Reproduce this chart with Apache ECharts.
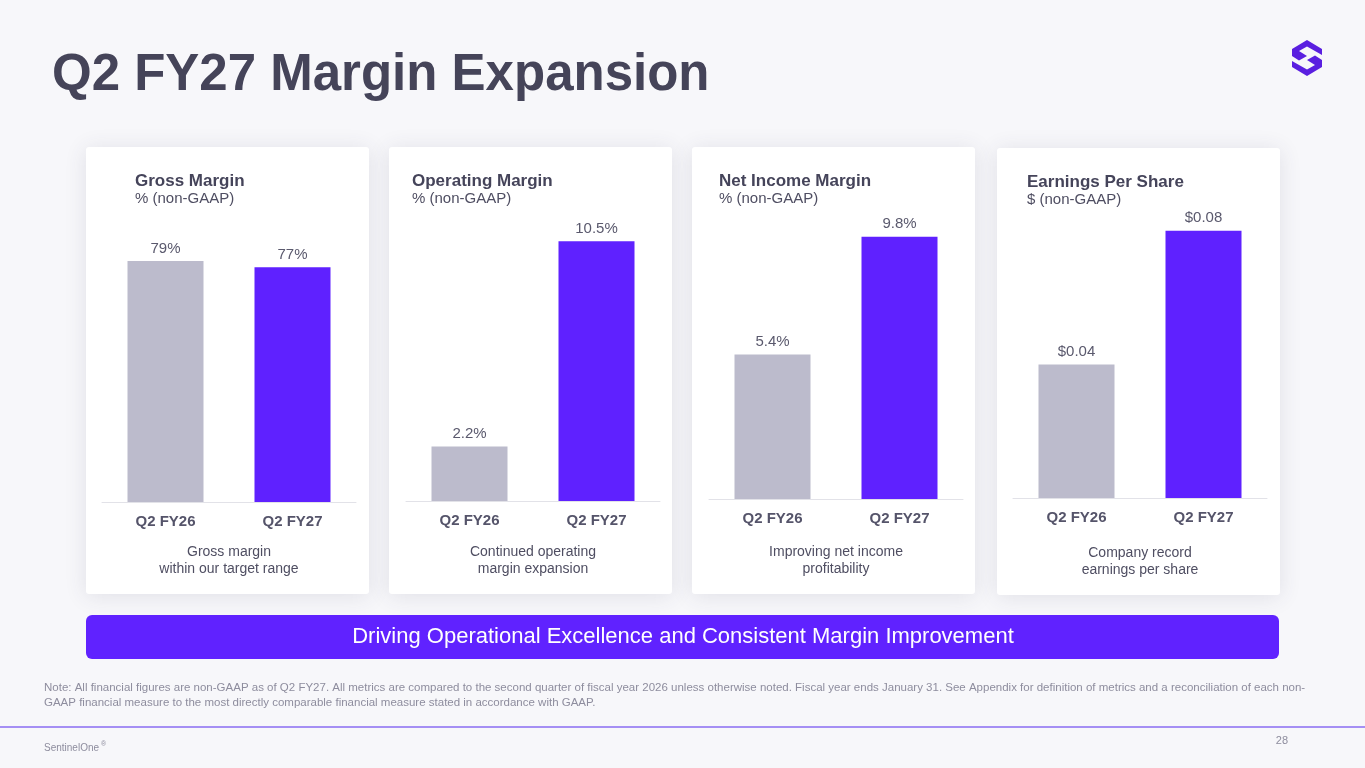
<!DOCTYPE html>
<html>
<head>
<meta charset="utf-8">
<script src="https://cdn.jsdelivr.net/npm/echarts@6/dist/echarts.min.js"></script>
<style>
html,body{margin:0;padding:0;background:#f7f7fa;}
#chart{width:1365px;height:768px;}
</style>
</head>
<body>
<div id="chart"></div>
<script>
const categories = ['Q2 FY26', 'Q2 FY27'];
const grossMargin = [79, 77];
const operatingMargin = [2.2, 10.5];
const netIncomeMargin = [5.4, 9.8];
const earningsPerShare = [0.04, 0.08];
const grossLabels = ['79%', '77%'];
const operatingLabels = ['2.2%', '10.5%'];
const netIncomeLabels = ['5.4%', '9.8%'];
const epsLabels = ['$0.04', '$0.08'];
const panelTitles = ['Gross Margin', 'Operating Margin', 'Net Income Margin', 'Earnings Per Share'];
const panelSubtitles = ['% (non-GAAP)', '% (non-GAAP)', '% (non-GAAP)', '$ (non-GAAP)'];
const panelCaptions = ['Gross margin\nwithin our target range', 'Continued operating\nmargin expansion', 'Improving net income\nprofitability', 'Company record\nearnings per share'];
const barColors = ['#bcbbcc', '#5f21ff'];

const FONT = 'Liberation Sans, Arial, Helvetica, sans-serif';
const panels = [
  {values: grossMargin, labels: grossLabels, card: [86,147], axisLeft: 102, base: 502, max: 100, top: 197, titleX: 135, titleY: 181},
  {values: operatingMargin, labels: operatingLabels, card: [389,147], axisLeft: 406, base: 501, max: 12, top: 204, titleX: 412, titleY: 181},
  {values: netIncomeMargin, labels: netIncomeLabels, card: [692,147], axisLeft: 709, base: 499, max: 12, top: 178, titleX: 719, titleY: 181},
  {values: earningsPerShare, labels: epsLabels, card: [997,148], axisLeft: 1013, base: 498, max: 0.1, top: 164, titleX: 1027, titleY: 182}
];

const chart = echarts.init(document.getElementById('chart'));
const grids = [], xAxes = [], yAxes = [], series = [], graphics = [];

graphics.push({type:'rect', shape:{x:0,y:0,width:1365,height:768}, style:{fill:'#f7f7fa'}, z:-10});

panels.forEach((p, i) => {
  graphics.push({type:'rect', shape:{x:p.card[0], y:p.card[1], width:283, height:447, r:3},
    style:{fill:'#ffffff', shadowBlur:22, shadowColor:'rgba(60,60,90,0.12)', shadowOffsetY:2}, z:-5});
  graphics.push({type:'text', x:p.titleX, y:p.titleY, style:{text:panelTitles[i], font:'bold 17px ' + FONT, fill:'#45445a', verticalAlign:'middle'}});
  graphics.push({type:'text', x:p.titleX, y:p.titleY + 18, style:{text:panelSubtitles[i], font:'15px ' + FONT, fill:'#4f4e62', verticalAlign:'middle'}});
  graphics.push({type:'text', x:p.axisLeft + 127, y:p.card[1] + 414, style:{text:panelCaptions[i], font:'14px ' + FONT, fill:'#4f4e62', align:'center', verticalAlign:'middle', lineHeight:17}});

  grids.push({left:p.axisLeft, width:254, top:p.top, height:p.base - p.top});
  xAxes.push({type:'category', gridIndex:i, data:categories,
    axisLine:{lineStyle:{color:'#e2e2e8', width:1}}, axisTick:{show:false},
    axisLabel:{color:'#55546a', fontSize:15, fontWeight:'bold', fontFamily:FONT, margin:12}});
  yAxes.push({type:'value', gridIndex:i, min:0, max:p.max, show:false, splitLine:{show:false}});
  series.push({type:'bar', xAxisIndex:i, yAxisIndex:i, barWidth:76,
    data:p.values.map((v, j) => ({value:v, itemStyle:{color:barColors[j]}})),
    label:{show:true, position:'top', distance:5, fontSize:15, fontFamily:FONT, color:'#5a596d',
      formatter: (d) => p.labels[d.dataIndex]}});
});

// Title
graphics.push({type:'text', x:52, y:76, style:{text:'Q2 FY27 Margin Expansion', font:'bold 51px ' + FONT, fill:'#454459', verticalAlign:'middle'}});

// Logo (approximate)
graphics.push({type:'polygon', shape:{points:[[1292,49],[1307,40],[1322,49],[1322,55],[1307,46.5],[1299,51],[1307,56],[1299,60.5],[1292,56]]}, style:{fill:'#5a1fe0'}});
graphics.push({type:'polygon', shape:{points:[[1322,67],[1307,76],[1292,67],[1292,61],[1307,69.5],[1315,65],[1307,60],[1315,55.5],[1322,60]]}, style:{fill:'#5a1fe0'}});

// Banner
graphics.push({type:'rect', shape:{x:86, y:615, width:1193, height:44, r:6}, style:{fill:'#6022ff'}});
graphics.push({type:'text', x:683, y:637, style:{text:'Driving Operational Excellence and Consistent Margin Improvement', font:'22px ' + FONT, fill:'#ffffff', align:'center', verticalAlign:'middle'}});

// Note
graphics.push({type:'text', x:44, y:688, style:{text:'Note: All financial figures are non-GAAP as of Q2 FY27. All metrics are compared to the second quarter of fiscal year 2026 unless otherwise noted. Fiscal year ends January 31. See Appendix for definition of metrics and a reconciliation of each non-', font:'11.5px ' + FONT, fill:'#8e8d9e', verticalAlign:'middle'}});
graphics.push({type:'text', x:44, y:703, style:{text:'GAAP financial measure to the most directly comparable financial measure stated in accordance with GAAP.', font:'11.5px ' + FONT, fill:'#8e8d9e', verticalAlign:'middle'}});

// Footer
graphics.push({type:'line', shape:{x1:0, y1:727, x2:1365, y2:727}, style:{stroke:'#8a6df2', lineWidth:1.5}});
graphics.push({type:'text', x:44, y:748, style:{text:'SentinelOne', font:'10px ' + FONT, fill:'#8e8d9e', verticalAlign:'middle'}});
graphics.push({type:'text', x:101, y:744, style:{text:'®', font:'7px ' + FONT, fill:'#8e8d9e', verticalAlign:'middle'}});
graphics.push({type:'text', x:1288, y:741, style:{text:'28', font:'11px ' + FONT, fill:'#8e8d9e', align:'right', verticalAlign:'middle'}});

chart.setOption({
  animation:false,
  backgroundColor:'#f7f7fa',
  grid:grids, xAxis:xAxes, yAxis:yAxes, series:series,
  graphic:{elements:graphics}
});
</script>
</body>
</html>
